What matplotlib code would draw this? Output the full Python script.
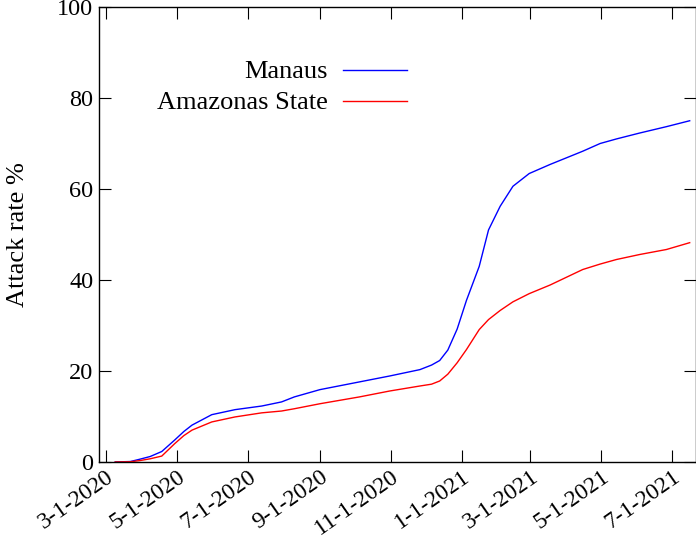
import matplotlib
matplotlib.use('Agg')
import matplotlib.pyplot as plt
import pandas as pd

plt.rcParams['font.family'] = ['Liberation Serif', 'DejaVu Serif']

# Data (attack rate, %)
dates = ['2020-03-09', '2020-03-22', '2020-03-30', '2020-04-08', '2020-04-18',
         '2020-04-29', '2020-05-07', '2020-05-14', '2020-05-31', '2020-06-20',
         '2020-07-13', '2020-07-30', '2020-08-10', '2020-09-01', '2020-10-05',
         '2020-10-31', '2020-11-26', '2020-12-06', '2020-12-13', '2020-12-20',
         '2020-12-28', '2021-01-05', '2021-01-16', '2021-01-24', '2021-02-03',
         '2021-02-14', '2021-02-28', '2021-03-18', '2021-04-15', '2021-04-30',
         '2021-05-14', '2021-06-03', '2021-06-26', '2021-07-16']
manaus = [0.0, 0.1, 0.6, 1.2, 2.3, 4.8, 6.7, 8.1, 10.4, 11.5,
          12.3, 13.2, 14.3, 15.9, 17.6, 18.9, 20.3, 21.3, 22.3, 24.6,
          29.2, 35.5, 43.0, 51.0, 56.2, 60.6, 63.4, 65.4, 68.3, 70.0,
          71.0, 72.3, 73.7, 75.0]
amazonas = [0.0, 0.05, 0.3, 0.7, 1.3, 4.0, 5.8, 7.0, 8.8, 9.9,
            10.8, 11.2, 11.7, 12.8, 14.3, 15.6, 16.7, 17.1, 17.8, 19.3,
            21.8, 24.7, 29.1, 31.3, 33.3, 35.2, 37.0, 38.9, 42.3, 43.5,
            44.5, 45.6, 46.7, 48.2]
tick_dates = ['2020-03-01', '2020-05-01', '2020-07-01', '2020-09-01', '2020-11-01',
              '2021-01-01', '2021-03-01', '2021-05-01', '2021-07-01']
tick_labels = ['3-1-2020', '5-1-2020', '7-1-2020', '9-1-2020', '11-1-2020',
               '1-1-2021', '3-1-2021', '5-1-2021', '7-1-2021']
y_ticks = [0, 20, 40, 60, 80, 100]

x = pd.to_datetime(dates)

fig = plt.figure(figsize=(6.96, 5.38), dpi=100)
ax = fig.add_axes([0.1422, 0.1413, 0.8571, 0.8457])

ax.plot(x, manaus, color='#0000ff', lw=1.0)
ax.plot(x, amazonas, color='#ff0000', lw=1.0)

ax.set_xlim(pd.Timestamp('2020-02-24'), pd.Timestamp('2021-07-21'))
ax.set_ylim(0, 100)
ax.set_xticks(pd.to_datetime(tick_dates))
ax.set_xticklabels(tick_labels, rotation=35, ha='right', rotation_mode='anchor')
ax.set_yticks(y_ticks)
ax.tick_params(direction='in', length=8.5, width=0.8, top=True, right=True,
               labelsize=17.5, pad=4)
ax.tick_params(axis='x', labelsize=17, pad=3)
for s in ax.spines.values():
    s.set_linewidth(1.0)
ax.set_ylabel('Attack rate %', fontsize=19)
ax.yaxis.set_label_coords(-0.118, 0.5)

# key, gnuplot style: text right-aligned, sample to its right
key = [('Manaus', '#0000ff', 0.862), ('Amazonas State', '#ff0000', 0.793)]
for label, col, yy in key:
    ax.text(0.384, yy - 0.004, label, transform=ax.transAxes, ha='right',
            va='center', fontsize=19)
    ax.plot([0.409, 0.516], [yy, yy], transform=ax.transAxes, color=col, lw=1.0)

fig.savefig('out.png', dpi=100)
